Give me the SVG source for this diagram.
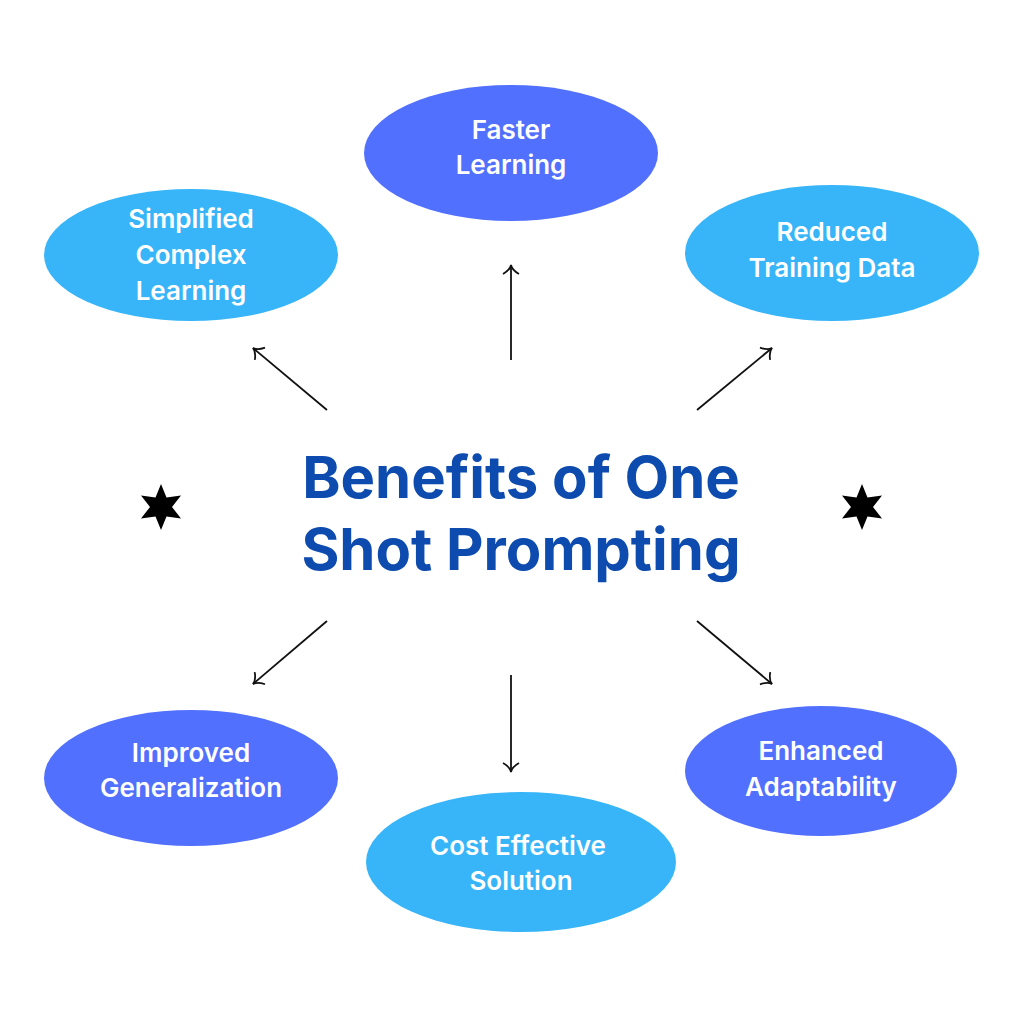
<svg xmlns="http://www.w3.org/2000/svg" width="1024" height="1024" viewBox="0 0 1024 1024">
<style>
.dark{fill:#5170fd}.light{fill:#38b5f8}
.t{fill:#fff;font-family:Inter,"Open Sans",sans-serif;font-weight:600;font-size:26px;text-anchor:middle}
.title{fill:#0d4cae;font-family:Inter,"Open Sans",sans-serif;font-weight:700;font-size:58px;text-anchor:middle}
.c line{stroke:#111;stroke-width:1.8;marker-end:url(#ah)}
</style>
<defs>
<marker id="ah" markerWidth="20" markerHeight="20" refX="10" refY="10" orient="auto" markerUnits="userSpaceOnUse">
<path d="M1,2 Q5,9 10,10 Q5,11 1,18" fill="none" stroke="#111" stroke-width="1.8"/>
</marker>
</defs>
<rect width="1024" height="1024" fill="#fff"/>
<g id="title"><text class="title" x="521" y="498">Benefits of One</text><text class="title" x="521" y="570">Shot Prompting</text></g>
<g id="n1"><ellipse class="dark" cx="511" cy="153" rx="147" ry="68"/><text class="t" x="511" y="139">Faster</text><text class="t" x="511" y="174">Learning</text></g>
<g id="n2"><ellipse class="light" cx="191" cy="255" rx="147" ry="66"/><text class="t" x="191" y="228">Simplified</text><text class="t" x="191" y="264">Complex</text><text class="t" x="191" y="300">Learning</text></g>
<g id="n3"><ellipse class="light" cx="832" cy="253" rx="147" ry="68"/><text class="t" x="832" y="241">Reduced</text><text class="t" x="832" y="277">Training Data</text></g>
<g id="n4"><ellipse class="dark" cx="191" cy="778" rx="147" ry="68"/><text class="t" x="191" y="762">Improved</text><text class="t" x="191" y="797">Generalization</text></g>
<g id="n5"><ellipse class="light" cx="521" cy="862" rx="155" ry="70"/><text class="t" x="518" y="855">Cost Effective</text><text class="t" x="521" y="890">Solution</text></g>
<g id="n6"><ellipse class="dark" cx="821" cy="771" rx="136" ry="65"/><text class="t" x="821" y="760">Enhanced</text><text class="t" x="821" y="796">Adaptability</text></g>
<g class="c" id="connectors">
<line x1="511" y1="360" x2="511" y2="265"/>
<line x1="327" y1="410" x2="253" y2="348"/>
<line x1="697" y1="410" x2="772" y2="348"/>
<line x1="327" y1="621" x2="253" y2="684"/>
<line x1="511" y1="675" x2="511" y2="772"/>
<line x1="697" y1="621" x2="772" y2="684"/>
</g>
<g id="stars" fill="#000">
<path transform="translate(161,507)" d="M0,-23 L5.5,-9.5 L20,-11.5 L11,0 L20,11.5 L5.5,9.5 L0,23 L-5.5,9.5 L-20,11.5 L-11,0 L-20,-11.5 L-5.5,-9.5Z"/>
<path transform="translate(862,507)" d="M0,-23 L5.5,-9.5 L20,-11.5 L11,0 L20,11.5 L5.5,9.5 L0,23 L-5.5,9.5 L-20,11.5 L-11,0 L-20,-11.5 L-5.5,-9.5Z"/>
</g>
</svg>
